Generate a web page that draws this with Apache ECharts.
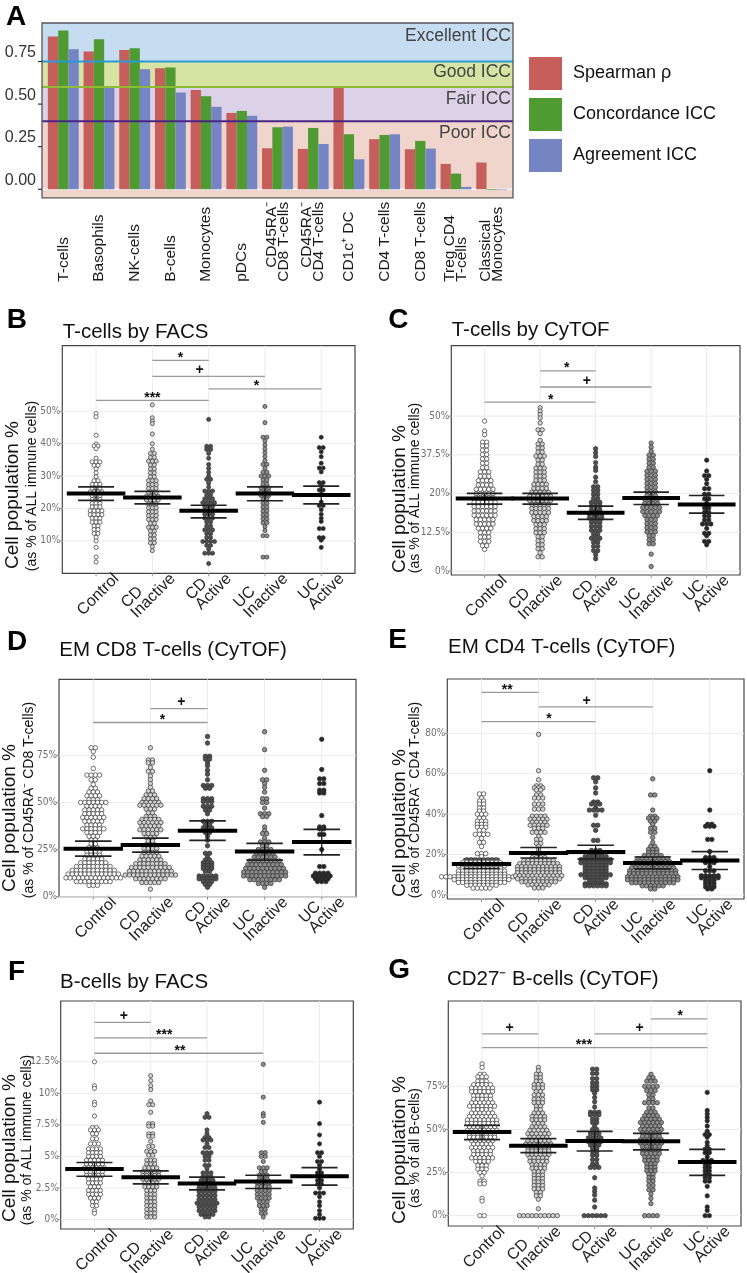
<!DOCTYPE html>
<html><head><meta charset="utf-8">
<script src="https://cdn.jsdelivr.net/npm/echarts@6.0.0/dist/echarts.min.js"></script>
<style>html,body{margin:0;padding:0;background:#fff}#c{width:747px;height:1273px}</style>
</head><body><div id="c"></div>
<script>
// ================= DATA =================
// Panel A
const catsA = ['T-cells','Basophils','NK-cells','B-cells','Monocytes','pDCs','CD45RA⁻\nCD8 T-cells','CD45RA⁻\nCD4 T-cells','CD1c⁺ DC','CD4 T-cells','CD8 T-cells','Treg CD4\nT-cells','Classical\nMonocytes'];
const spearman    = [0.897,0.809,0.818,0.711,0.583,0.448,0.241,0.237,0.597,0.294,0.235,0.149,0.157];
const concordance = [0.932,0.881,0.828,0.715,0.546,0.460,0.364,0.360,0.323,0.319,0.284,0.092,-0.004];
const agreement   = [0.822,0.595,0.705,0.568,0.484,0.431,0.368,0.266,0.176,0.323,0.239,0.014,-0.003];
const seriesNamesA = ['Spearman ρ','Concordance ICC','Agreement ICC'];
const iccBandNames = ['Excellent ICC','Good ICC','Fair ICC','Poor ICC'];
const iccThresholds = [0.75, 0.6, 0.4];
const A_ticks = [0, 0.25, 0.5, 0.75];
const A_tickLabels = ['0.00','0.25','0.50','0.75'];

// Dot panels
const groups = ['Control','CD\nInactive','CD\nActive','UC\nInactive','UC\nActive'];

// rows: [value %, number of dots in the row]
const B_rows = [
 [[49.3,1],[48.3,1],[42.6,1],[39.9,1],[39.3,2],[38.5,1],[35.5,1],[34.4,3],[33.3,2],[32.2,1],[31,1],[29.8,1],[28.6,2],[27.5,3],[26.3,3],[25.1,4],[24,3],[22.8,3],[21.6,3],[20.5,3],[19.3,4],[18.1,4],[17,3],[15.8,3],[14.6,2],[13.5,2],[12.3,2],[11.1,1],[10,1],[8,1],[5,1],[3.5,1]],
 [[52,1],[48,1],[47,1],[46.2,1],[43,1],[40,1],[38.3,1],[37,2],[35.8,2],[34.6,3],[33.4,2],[32.2,2],[31,2],[29.8,2],[28.6,3],[27.4,3],[26.2,3],[25,3],[23.8,4],[22.6,4],[21.4,3],[20.2,3],[19,3],[17.8,3],[16.6,3],[15.4,2],[14.2,3],[13,2],[11.8,2],[10.6,2],[9.4,2],[8.2,1],[7,1]],
 [[47.5,1],[39.2,2],[38.2,2],[37,1],[35.5,1],[33.6,1],[32.4,1],[31.2,1],[30,1],[29,2],[27.8,1],[26.6,1],[25.4,3],[24.2,2],[23,3],[21.8,4],[20.6,3],[19.4,3],[18.2,3],[17,3],[15.8,2],[14.6,2],[13.4,3],[12.2,2],[11,2],[9.8,4],[8.6,2],[7.4,1],[6.2,3],[3,1]],
 [[51.5,1],[46.5,1],[42,2],[40.8,1],[39.6,1],[38.4,1],[37.2,1],[36,1],[34.8,1],[33.6,2],[32.4,1],[31.2,2],[30,3],[28.8,2],[27.6,2],[26.4,3],[25.2,3],[24,3],[22.8,2],[21.6,2],[20.4,2],[19.2,2],[18,2],[16.8,2],[15.6,2],[14.4,1],[13.2,1],[11.6,2],[5,2]],
 [[42,1],[38.8,2],[37.5,1],[36,1],[34,1],[32.5,2],[31.3,1],[28,2],[27,1],[25.7,2],[24.4,1],[22,1],[20.9,2],[19.6,1],[18.2,1],[17,1],[16,1],[13.8,2],[11,2],[10.2,1],[8,1]]
];
const B_mean = [24.6,23.4,19.3,24.6,24.2];
const B_hi   = [26.7,25.3,21.0,26.7,26.9];
const B_lo   = [22.5,21.4,17.1,22.4,21.4];
const B_sig  = [[1,2,65.7,'*',1.5],[1,3,60.8,'+',1.84],[2,4,56.9,'*',2.85],[0,2,53.4,'***',1.0]];
const B_ticks = [10,20,30,40,50];
const B_tickLabels = ['10%','20%','30%','40%','50%'];

const C_rows = [
 [[48.4,1],[45.2,1],[44,1],[41.6,2],[40.4,2],[39,2],[37.6,2],[36.2,2],[34.8,2],[33.4,2],[32,3],[30.6,3],[29.2,4],[27.8,4],[26.4,5],[25,5],[23.6,5],[22.2,6],[20.8,6],[19.4,6],[18,6],[16.6,5],[15.2,5],[13.8,4],[12.4,3],[11,3],[9.6,3],[8.2,2],[7,1]],
 [[52.7,1],[51.6,1],[50.5,1],[49.4,1],[47.8,1],[45.6,2],[44.4,1],[42.2,1],[41,2],[39.7,2],[38.4,2],[37.1,3],[35.8,2],[34.5,2],[33.2,3],[31.9,3],[30.6,3],[29.3,3],[28,4],[26.7,4],[25.4,5],[24.1,6],[22.8,6],[21.5,5],[20.2,5],[18.9,5],[17.6,4],[16.3,4],[15,3],[13.7,3],[12.4,3],[11.1,2],[9.8,2],[8.5,2],[7.2,2],[5.9,1],[4.6,2]],
 [[39.5,1],[38.2,1],[37,1],[35,1],[33.5,1],[32.5,1],[30.3,1],[28.8,1],[27.2,2],[26,2],[24.8,2],[23.5,2],[22.2,3],[21,3],[19.7,3],[18.4,4],[17.1,4],[15.8,3],[14.5,3],[13.2,3],[11.9,2],[10.6,3],[9.3,2],[8,2],[6.6,2],[5.3,1],[4,1]],
 [[41.3,1],[40,1],[38.7,1],[37.4,2],[36.1,2],[34.8,2],[33.5,2],[32.2,3],[30.9,3],[29.6,3],[28.3,3],[27,3],[25.7,3],[24.4,3],[23.1,4],[21.8,4],[20.5,5],[19.2,5],[17.9,4],[16.6,3],[15.3,3],[14,3],[12.7,3],[11.4,2],[10.1,2],[8.8,2],[5.5,1],[1.5,1]],
 [[35.8,1],[32.3,1],[30.8,2],[29.6,1],[28.2,1],[26.6,2],[24.8,2],[23.3,2],[21.8,1],[20.4,2],[19,2],[17.8,2],[16.5,2],[15.2,3],[13.8,1],[12.2,2],[11.4,1],[9.6,2],[8.5,1]]
];
const C_mean = [23.4,23.4,18.8,23.6,21.5];
const C_hi   = [25.1,25.1,21.0,25.5,24.4];
const C_lo   = [21.6,21.6,16.7,21.5,18.7];
const C_sig  = [[1,2,64.6,'*',1.48],[1,3,59.4,'+',1.84],[0,2,54.5,'*',1.19]];
const C_ticks = [0,12.5,25,37.5,50];
const C_tickLabels = ['0%','12.5%','20%','37.5%','50%'];

const D_rows = [
 [[79,2],[77,1],[74,1],[68,1],[64.5,4],[62,2],[59.5,1],[57.5,2],[55.5,3],[53.5,4],[51.5,3],[50,7],[48,4],[46,5],[44,5],[42,6],[40,5],[38,4],[36,6],[34,4],[32,3],[30,2],[28,2],[26,3],[24,4],[22,4],[20,5],[18,7],[16,9],[14,11],[12,13],[10,14],[8,9],[6,3]],
 [[79,1],[72.5,2],[71,2],[68.5,1],[66.5,2],[64,1],[62,1],[60,1],[58,1],[56,2],[54,3],[52,4],[50,5],[48.5,6],[46.5,3],[44.5,2],[42.5,3],[41,5],[39.3,6],[37.5,5],[35.5,6],[33.5,4],[31.5,3],[29.5,2],[27.5,3],[25.5,4],[23.5,4],[21.5,5],[19.5,6],[17.5,8],[15.5,10],[13.5,11],[11.5,13],[9.5,8],[7.5,5],[4,1]],
 [[85,1],[81.5,1],[74.5,2],[73,2],[71,1],[69.5,1],[67,1],[65,1],[62,1],[59,3],[57.5,2],[52,3],[50.5,3],[48,3],[46,2],[44,1],[40,3],[38,2],[36.5,3],[34,2],[32,1],[30,1],[27,1],[23,2],[21,1],[19.5,2],[18,3],[16.5,3],[15,3],[13.5,2],[11,5],[9.5,5],[8,3],[6.5,2],[5,1]],
 [[87.5,1],[78,1],[67,1],[62,2],[60,1],[58,1],[55.5,1],[52,2],[50,2],[47,1],[44,3],[42.5,2],[37,1],[35,1],[33.5,2],[31,1],[29,3],[27,2],[25,4],[23,5],[21,6],[19,8],[17,9],[15,10],[13,11],[11,11],[9,8],[7,4],[5,1]],
 [[83.5,1],[67.5,1],[62.5,2],[60,2],[56.5,2],[55,2],[43,1],[37,2],[36,2],[33,2],[25,1],[16,2],[12.5,4],[11,5],[9.5,4],[8,3]]
];
const D_mean = [25.4,27.4,35.0,24.0,29.0];
const D_hi   = [29.5,31.1,40.2,28.3,35.7];
const D_lo   = [21.5,23.6,29.9,19.4,22.2];
const D_sig  = [[1,2,99.8,'+',1.54],[0,2,92.4,'*',1.21]];
const D_ticks = [0,25,50,75];
const D_tickLabels = ['0%','25%','50%','75%'];

const E_rows = [
 [[50,2],[48,1],[46.5,2],[45,2],[43,2],[41.5,2],[40,3],[38,2],[36.5,3],[35,3],[33.5,3],[32,2],[30,4],[28,1],[26,2],[24,1],[20.5,3],[19,1],[17.5,8],[16,10],[14.5,12],[13,10],[11.8,12],[10.3,12],[9,20],[7.6,14],[6.2,12],[4.8,8],[3.4,5]],
 [[79.5,1],[61.5,1],[57,1],[54,2],[53,3],[52,2],[49.5,2],[48,3],[45,3],[42.5,3],[39,4],[37.5,5],[36,4],[34.5,5],[33,3],[31,4],[29,1],[27.5,2],[25.5,2],[24,1],[22.5,1],[20.5,1],[18.5,4],[17,8],[15.5,10],[14,11],[12.5,11],[11,11],[9.5,12],[8,11],[6.5,9],[5,6],[3.5,3]],
 [[58,2],[56,1],[53,1],[50.5,1],[46,2],[45,3],[43,1],[42,4],[39.5,1],[34.5,2],[32,1],[27,2],[22,3],[20.5,4],[19,6],[17.5,8],[16,8],[14.5,6],[13,6],[11.5,6],[10,8],[8.5,6],[7,4],[5.5,6],[4.5,6]],
 [[57.5,1],[49.5,2],[42,1],[39,2],[38,3],[36.5,2],[35,1],[33,2],[31,2],[28.5,1],[26,1],[24,2],[22.5,3],[21,3],[19.5,5],[18,8],[16.5,9],[15,10],[13.5,11],[12,12],[10.5,12],[9,13],[7.5,13],[6,11],[4.5,6],[3,2]],
 [[61.5,1],[42,1],[35,2],[34,3],[27.5,2],[21.5,1],[18.5,3],[17,4],[16,3],[14,1],[12,3],[9.5,5],[8.5,5],[7,3],[5.5,3],[4,3],[3,2]]
];
const E_mean = [15.3,20.8,21.3,15.8,17.0];
const E_hi   = [17.8,23.5,24.6,18.8,21.5];
const E_lo   = [13.1,18.3,17.8,12.9,12.6];
const E_sig  = [[0,1,100.3,'**',0.45],[1,3,93.1,'+',1.84],[0,2,85.8,'*',1.18]];
const E_ticks = [0,20,40,60,80];
const E_tickLabels = ['0%','20%','40%','60%','80%'];

const F_rows = [
 [[12.5,1],[10.6,1],[10.4,1],[9.3,1],[9.1,1],[8.2,1],[7.3,2],[7.1,3],[6.8,2],[6.4,2],[6,3],[5.6,4],[5.3,4],[5,4],[4.7,5],[4.4,5],[4.1,6],[3.8,5],[3.5,5],[3.2,4],[2.9,4],[2.6,3],[2.3,4],[2,4],[1.7,3],[1.4,2],[1.1,2],[0.7,1],[0.5,1]],
 [[11.4,1],[11,1],[10.6,1],[10.3,1],[9.4,1],[9.1,2],[8.5,1],[7.6,2],[7.4,2],[6.8,2],[6.6,2],[6.2,1],[5.8,2],[5.4,3],[5.1,2],[4.7,3],[4.4,3],[4.1,4],[3.8,5],[3.5,5],[3.2,5],[2.9,4],[2.6,4],[2.3,3],[2,3],[1.7,3],[1.4,3],[1.1,3],[0.8,3],[0.5,3],[0.2,3]],
 [[8.4,1],[8.1,2],[7.1,1],[6.8,1],[6.5,2],[6.3,3],[6,1],[5.7,2],[5.3,3],[5,2],[4.7,2],[4.3,2],[4,1],[3.7,3],[3.4,3],[3.1,4],[2.8,5],[2.5,5],[2.2,5],[1.9,5],[1.6,5],[1.3,6],[1,5],[0.7,5],[0.4,4],[0.2,2]],
 [[12.3,1],[9.7,1],[8.4,1],[8.2,1],[7.7,1],[5.3,2],[5,2],[4.6,1],[4.1,3],[3.8,2],[3.5,3],[3.2,3],[2.9,4],[2.6,4],[2.3,4],[2,4],[1.7,4],[1.4,3],[1.1,3],[0.8,2],[0.5,2],[0.2,1]],
 [[9.3,1],[7.6,1],[6.7,1],[6,1],[5.3,2],[5,1],[4.6,2],[4.3,1],[4,1],[3.7,2],[3.4,1],[3.1,2],[2.8,2],[2.5,1],[2.1,3],[1.8,1],[1.4,1],[1.1,1],[0.7,1],[0.4,1],[0.1,3]]
];
const F_mean = [4.01,3.36,2.85,3.01,3.43];
const F_hi   = [4.52,3.86,3.36,3.51,4.12];
const F_lo   = [3.43,2.83,2.35,2.46,2.72];
const F_sig  = [[0,1,15.63,'+',0.52],[0,2,14.4,'***',1.24],[0,3,13.18,'**',1.52]];
const F_ticks = [0,2.5,5,7.5,10,12.5];
const F_tickLabels = ['0%','2.5%','5%','7.5%','10%','12.5%'];

const G_rows = [
 [[88,1],[86,1],[82,2],[80.5,3],[78,3],[76,5],[74,6],[72,6],[69.5,5],[67.5,5],[65.5,6],[63.5,7],[61.5,5],[59.5,6],[57.5,7],[55.5,8],[53.5,8],[51.5,7],[49.5,8],[47.5,7],[45.5,7],[43.5,6],[41.5,5],[39.5,6],[37.5,5],[35.5,5],[33.5,6],[31.5,4],[29,3],[27,3],[25,2],[23,1],[20,2],[18.5,2],[10,1],[8.5,1],[0,2]],
 [[86,1],[84,1],[82,2],[80,2],[78,2],[76,3],[74,3],[72,2],[70,3],[67.5,3],[65.5,3],[63.5,2],[61.5,2],[59.5,3],[57.5,4],[55.5,4],[53.5,3],[51.5,4],[49.5,5],[47.5,6],[45.5,5],[43.5,6],[41.5,7],[39.5,6],[37.5,6],[35.5,6],[33.5,5],[31.5,5],[29.5,4],[27.5,4],[25.5,3],[23.5,3],[21.5,3],[19.5,3],[17.5,3],[15.5,3],[13.5,2],[11.5,2],[9.5,1],[4,1],[0,10]],
 [[85,2],[82.5,2],[79.5,2],[77,2],[75,2],[73,2],[71,1],[68.5,1],[66,1],[63,1],[60,3],[58.5,3],[56,2],[54,2],[52,1],[50,2],[47.5,3],[45,4],[43,4],[41,3],[39,2],[37,2],[35,2],[32.5,2],[30,2],[28,3],[22,1],[16,1],[14,1],[12,1],[9,1],[5,1],[0,6]],
 [[82,1],[80,2],[78,3],[75,4],[72.5,3],[70,2],[67.5,2],[65.5,4],[62.5,2],[60,3],[58,4],[56,5],[54,6],[52,5],[50,6],[48,5],[46,5],[44,6],[42,6],[40,5],[38,5],[36,5],[34,4],[32,4],[30,3],[28,3],[26,3],[24,2],[22,2],[20,2],[17.5,2],[15,2],[12.5,1],[10,1],[7,1],[0,4]],
 [[71.5,1],[61,1],[59,1],[57,1],[55,1],[52,1],[49,1],[47,2],[45.5,1],[42.5,1],[40.5,1],[38.5,2],[36.5,2],[34,1],[32,3],[30,2],[28,2],[26,2],[24,2],[22,2],[20,2],[17,1],[11.5,1],[5,1],[3,1],[0,2]]
];
const G_mean = [48.5,40.6,43.3,43.1,31.1];
const G_hi   = [52.4,44.7,48.9,47.7,38.5];
const G_lo   = [44.1,36.5,37.5,38.1,23.4];
const G_sig  = [[3,4,114.1,'*',3.52],[0,1,105.4,'+',0.49],[2,4,105.4,'+',2.8],[0,4,97.4,'***',1.81]];
const G_ticks = [0,25,50,75];
const G_tickLabels = ['0%','25%','50%','75%'];

const panelTitles = {B:'T-cells by FACS', C:'T-cells by CyTOF', D:'EM CD8 T-cells (CyTOF)', E:'EM CD4 T-cells (CyTOF)', F:'B-cells by FACS', G:'CD27⁻ B-cells (CyTOF)'};
const yNameMain = 'Cell population %';
const yNameSub = {B:'(as % of ALL immune cells)', C:'(as % of ALL immune cells)', D:'(as % of CD45RA⁻ CD8 T-cells)', E:'(as % of CD45RA⁻ CD4 T-cells)', F:'(as % of ALL immune cells)', G:'(as % of all B-cells)'};

// ================= STYLE / LAYOUT =================
const FONT = '"Liberation Sans", Arial, Helvetica, sans-serif';
const NARROW = '"Liberation Sans Narrow", "DejaVu Sans Condensed", "Liberation Sans", Arial, sans-serif';
const barColors = ['#c65f5b', '#4f9a31', '#7585c4'];
const bandColors = ['#c6dcf0', '#d7e3a2', '#dcd2e7', '#f0d5cd'];
const threshColors = ['#2a9ad6', '#8dbd34', '#4a2784'];
const bandTextY = [0.90, 0.69, 0.53, 0.33];
const groupFill = ['#ffffff', '#d2d2d2', '#4f4f4f', '#8d8d8d', '#262626'];

const layout = {
 B:{grid:{left:62.3,top:345.7,width:292.7,height:227.6}, ymin:0,    ymax:70.25, step:10,   dot:4.1, gap:3.9, title:[62.7,322], letter:[6.7,306], nMain:[13,495], nSub:[32,486]},
 C:{grid:{left:451.3,top:345.7,width:288.7,height:229.3}, ymin:-1.25,ymax:72.72, step:1.25, dot:4.4, gap:4.2, title:[451.7,320], letter:[388.3,306], nMain:[400,499], nSub:[415.5,488]},
 D:{grid:{left:59,top:679.3,width:297,height:217.4},      ymin:0,    ymax:115.3, step:25,   dot:4.5, gap:4.2, title:[59.3,640], letter:[7,628], nMain:[9.5,818], nSub:[29,800]},
 E:{grid:{left:447.3,top:679,width:296.7,height:220},     ymin:-2,   ymax:106.9, step:2,    dot:4.5, gap:4.2, title:[448,637], letter:[388.3,626], nMain:[400,823], nSub:[415,800]},
 F:{grid:{left:60.7,top:1001,width:292.6,height:228},     ymin:-0.75,ymax:17.32, step:0.25, dot:4.2, gap:4.0, title:[60,972], letter:[8,958], nMain:[9.5,1148], nSub:[27.5,1140]},
 G:{grid:{left:448.3,top:1001,width:292.7,height:225},    ymin:-6,   ymax:124.5, step:1,    dot:4.4, gap:4.2, title:[447,969], letter:[388.3,956], nMain:[400,1150], nSub:[415,1148]}
};
const panelData = {
 B:{rows:B_rows, mean:B_mean, hi:B_hi, lo:B_lo, sig:B_sig, ticks:B_ticks, labels:B_tickLabels},
 C:{rows:C_rows, mean:C_mean, hi:C_hi, lo:C_lo, sig:C_sig, ticks:C_ticks, labels:C_tickLabels},
 D:{rows:D_rows, mean:D_mean, hi:D_hi, lo:D_lo, sig:D_sig, ticks:D_ticks, labels:D_tickLabels},
 E:{rows:E_rows, mean:E_mean, hi:E_hi, lo:E_lo, sig:E_sig, ticks:E_ticks, labels:E_tickLabels},
 F:{rows:F_rows, mean:F_mean, hi:F_hi, lo:F_lo, sig:F_sig, ticks:F_ticks, labels:F_tickLabels},
 G:{rows:G_rows, mean:G_mean, hi:G_hi, lo:G_lo, sig:G_sig, ticks:G_ticks, labels:G_tickLabels}
};

function tickFmt(ticks, labels) {
  return function (v) {
    for (let k = 0; k < ticks.length; k++) if (Math.abs(v - ticks[k]) < 1e-6) return labels[k];
    return '';
  };
}
function line(a, b, stroke, w) {
  return {type:'line', shape:{x1:a[0], y1:a[1], x2:b[0], y2:b[1]}, style:{stroke:stroke, lineWidth:w}};
}

const grid = [], xAxis = [], yAxis = [], series = [], title = [], graphic = [];

// ================= PANEL A =================
const A_ymin = -0.05, A_ymax = 0.976;
grid.push({left:42, top:23, width:471, height:174.8, show:false, outerBoundsMode:'none'});
grid.push({left:45.45, top:23, width:464.1, height:174.8, show:false, outerBoundsMode:'none'});
xAxis.push({gridIndex:0, type:'value', min:0, max:1, show:false});
xAxis.push({gridIndex:1, type:'category', data:catsA, axisLine:{show:false},
  axisTick:{show:true, alignWithLabel:true, length:5, lineStyle:{color:'#333', width:1.2}},
  axisLabel:{interval:0, rotate:90, align:'left', verticalAlign:'middle', margin:84,
    fontSize:15.5, lineHeight:12, color:'#1a1a1a', fontFamily:FONT,
    formatter: function (v) {
      const parts = v.split('\n');
      return parts.map(function (p) { return (parts.length > 1 && p.indexOf('CD45RA') === 0 ? '{r|' : '{l|') + p + '}'; }).join('\n');
    },
    rich:{l:{align:'left', fontSize:15.5, lineHeight:12, fontFamily:FONT, color:'#1a1a1a'},
          r:{align:'right', fontSize:15.5, lineHeight:12, fontFamily:FONT, color:'#1a1a1a'}}}
});
yAxis.push({gridIndex:0, type:'value', min:A_ymin, max:A_ymax, interval:0.05,
  axisLine:{show:false}, axisTick:{show:false}, splitLine:{show:false},
  axisLabel:{formatter:tickFmt(A_ticks, A_tickLabels), fontSize:16, color:'#333', fontFamily:FONT, margin:6,
    verticalAlign:'bottom', padding:[0,0,1,0]}});
yAxis.push({gridIndex:1, type:'value', min:A_ymin, max:A_ymax, show:false});

// bands
series.push({type:'custom', name:'bands', xAxisIndex:0, yAxisIndex:0, z:1, silent:true, data:[[0,0]],
  renderItem: function (params, api) {
    const bounds = [A_ymax, iccThresholds[0], iccThresholds[1], iccThresholds[2], A_ymin];
    const ch = [];
    for (let k = 0; k < 4; k++) {
      const p1 = api.coord([0, bounds[k]]), p2 = api.coord([1, bounds[k + 1]]);
      ch.push({type:'rect', shape:{x:p1[0], y:p1[1], width:p2[0] - p1[0], height:p2[1] - p1[1]}, style:{fill:bandColors[k]}});
    }
    ch.push(line(api.coord([0, 0]), api.coord([1, 0]), '#f7f7f7', 1.5));
    for (let k = 0; k < 4; k++) {
      const p = api.coord([1, bandTextY[k]]);
      ch.push({type:'text', x:p[0] - 2, y:p[1], style:{text:iccBandNames[k], fill:'#444', fontSize:17.5, fontFamily:FONT, align:'right', verticalAlign:'middle'}});
    }
    return {type:'group', children:ch};
  }});
[spearman, concordance, agreement].forEach(function (arr, k) {
  series.push({type:'bar', name:seriesNamesA[k], xAxisIndex:1, yAxisIndex:1, data:arr, barWidth:10.3, barGap:'0%', z:2,
    itemStyle:{color:barColors[k]}});
});
series.push({type:'custom', name:'thresholds', xAxisIndex:0, yAxisIndex:0, z:5, silent:true, data:[[0,0]],
  renderItem: function (params, api) {
    const ch = [];
    iccThresholds.forEach(function (t, k) { ch.push(line(api.coord([0, t]), api.coord([1, t]), threshColors[k], 2)); });
    const p1 = api.coord([0, A_ymax]), p2 = api.coord([1, A_ymin]);
    ch.push({type:'rect', shape:{x:p1[0], y:p1[1], width:p2[0] - p1[0], height:p2[1] - p1[1]}, style:{fill:null, stroke:'#555', lineWidth:1.3}});
    A_ticks.forEach(function (t) { const p = api.coord([0, t]); ch.push(line([p[0] - 4, p[1]], [p[0], p[1]], '#333', 1.2)); });
    return {type:'group', children:ch};
  }});
title.push({text:'A', left:6, top:3, padding:0, textStyle:{fontSize:28, fontWeight:'bold', color:'#000', fontFamily:FONT}});

// ================= DOT PANELS =================
['B','C','D','E','F','G'].forEach(function (key) {
  const L = layout[key], P = panelData[key];
  const gi = grid.length;
  grid.push(Object.assign({show:true, borderColor:'#444', borderWidth:1.2, backgroundColor:'transparent', outerBoundsMode:'none'}, L.grid));
  const xData = xAxis.length;
  xAxis.push({gridIndex:gi, type:'value', min:-0.6, max:4.6, position:'top', show:false});
  xAxis.push({gridIndex:gi, type:'value', min:-1.05, max:4.15, interval:0.05, position:'bottom',
    axisLine:{show:false}, axisTick:{show:false}, splitLine:{show:false},
    axisLabel:{rotate:45, margin:8, align:'right', verticalAlign:'bottom', fontSize:16, lineHeight:14, color:'#222', fontFamily:FONT,
      formatter: function (v) {
        const r = Math.round(v);
        if (Math.abs(v - r) > 1e-6 || r < 0 || r > 4) return '';
        return groups[r].split('\n').map(function (p) { return '{l|' + p + '}'; }).join('\n');
      },
      rich:{l:{align:'left', fontSize:16, lineHeight:14, color:'#222', fontFamily:FONT}}}});
  const yi = yAxis.length;
  yAxis.push({gridIndex:gi, type:'value', min:L.ymin, max:L.ymax, interval:L.step,
    axisLine:{show:false}, axisTick:{show:false}, splitLine:{show:false},
    axisLabel:{formatter:tickFmt(P.ticks, P.labels), fontSize:10, color:'#6e6e6e', fontFamily:NARROW, margin:2,
      verticalAlign:'middle', padding:[0,0,6,0]}});

  // gridlines + small ticks
  series.push({type:'custom', xAxisIndex:xData, yAxisIndex:yi, z:1, silent:true, data:[[0,0]],
    renderItem: function (params, api) {
      const ch = [];
      P.ticks.forEach(function (t) {
        const a = api.coord([-0.6, t]), b = api.coord([4.6, t]);
        ch.push(line(a, b, '#ebebeb', 1));
        ch.push(line([a[0] - 3, a[1]], a, '#777', 0.8));
      });
      for (let i = 0; i < 5; i++) {
        const a = api.coord([i, L.ymin]), b = api.coord([i, L.ymax]);
        ch.push(line(a, b, '#ebebeb', 1));
        ch.push(line(a, [a[0], a[1] + 3], '#777', 0.8));
      }
      return {type:'group', children:ch};
    }});

  // dots (dot-plot rows)
  const dxUnits = L.gap / (L.grid.width / 5.2);
  const pts = [];
  P.rows.forEach(function (rows, g) {
    rows.forEach(function (row) {
      const v = row[0], n = row[1];
      for (let k = 0; k < n; k++) {
        pts.push({value:[g + (k - (n - 1) / 2) * dxUnits, v], itemStyle:{color:groupFill[g]}});
      }
    });
  });
  series.push({type:'scatter', xAxisIndex:xData, yAxisIndex:yi, z:2, clip:false, silent:true, symbol:'circle', symbolSize:L.dot,
    itemStyle:{borderColor:'#333', borderWidth:0.7, opacity:1}, data:pts});

  // mean + CI
  series.push({type:'custom', xAxisIndex:xData, yAxisIndex:yi, z:3, silent:true,
    data:P.mean.map(function (m, i) { return [i, m]; }),
    renderItem: function (params, api) {
      const i = params.dataIndex, m = P.mean[i], h = P.hi[i], l = P.lo[i];
      return {type:'group', children:[
        line(api.coord([i, l]), api.coord([i, h]), '#111', 1.2),
        line(api.coord([i - 0.32, h]), api.coord([i + 0.32, h]), '#222', 1.7),
        line(api.coord([i - 0.32, l]), api.coord([i + 0.32, l]), '#222', 1.7),
        line(api.coord([i - 0.52, m]), api.coord([i + 0.52, m]), '#000', 4)
      ]};
    }});

  // significance brackets
  series.push({type:'custom', xAxisIndex:xData, yAxisIndex:yi, z:3, silent:true,
    data:P.sig.map(function (s) { return [s[4], s[2]]; }),
    renderItem: function (params, api) {
      const s = P.sig[params.dataIndex];
      const a = api.coord([s[0], s[2]]), b = api.coord([s[1], s[2]]), t = api.coord([s[4], s[2]]);
      const dy = s[3].indexOf('*') >= 0 ? 2.5 : 6;
      return {type:'group', children:[
        line(a, b, '#9a9a9a', 1.3),
        {type:'text', x:t[0], y:t[1] - dy, style:{text:s[3], fill:'#111', fontSize:14, fontWeight:'bold', fontFamily:FONT, align:'center', verticalAlign:'middle'}}
      ]};
    }});

  title.push({text:key, left:L.letter[0], top:L.letter[1], padding:0, textStyle:{fontSize:28, fontWeight:'bold', color:'#000', fontFamily:FONT}});
  title.push({text:panelTitles[key], left:L.title[0], top:L.title[1], padding:0, textStyle:{fontSize:20.5, fontWeight:'normal', color:'#111', fontFamily:FONT}});
  graphic.push({type:'text', x:L.nMain[0], y:L.nMain[1], rotation:Math.PI / 2, silent:true,
    style:{text:yNameMain, fontSize:19, fontFamily:FONT, fill:'#111', align:'center', verticalAlign:'middle'}});
  graphic.push({type:'text', x:L.nSub[0], y:L.nSub[1], rotation:Math.PI / 2, silent:true,
    style:{text:yNameSub[key], fontSize:14, fontFamily:FONT, fill:'#111', align:'center', verticalAlign:'middle'}});
});

const option = {
  animation:false,
  backgroundColor:'#ffffff',
  title:title,
  legend:{data:seriesNamesA, orient:'vertical', left:524, top:52, itemWidth:33, itemHeight:33, itemGap:8, icon:'rect',
    selectedMode:false, textStyle:{fontSize:18, color:'#111', fontFamily:FONT, padding:[0,0,0,6]}},
  grid:grid, xAxis:xAxis, yAxis:yAxis, series:series, graphic:graphic
};
const chart = echarts.init(document.getElementById('c'), null, {renderer:'canvas'});
chart.setOption(option);
</script></body></html>
